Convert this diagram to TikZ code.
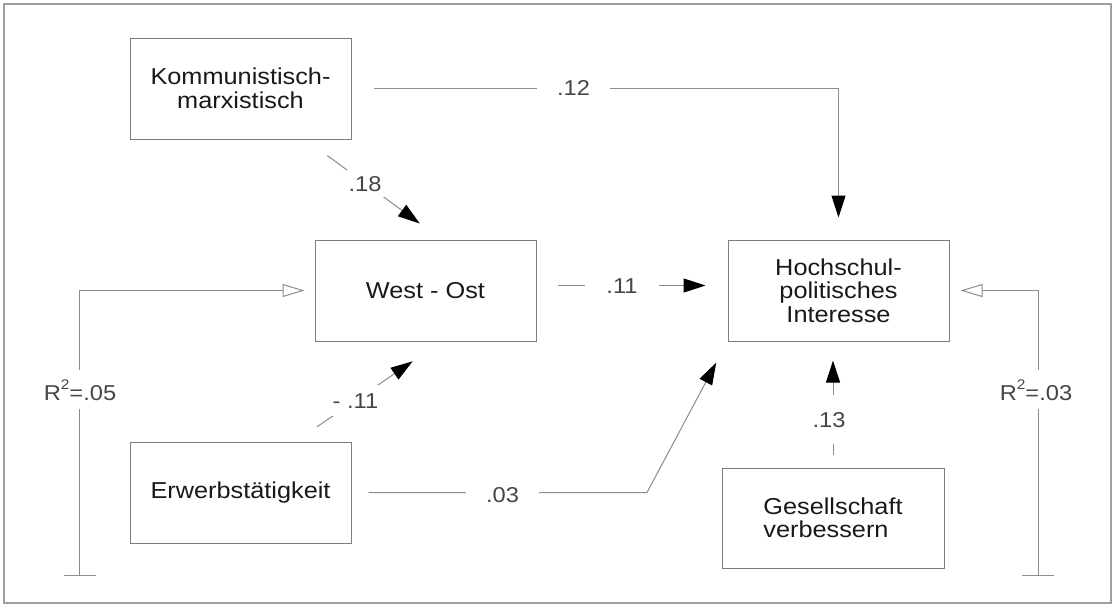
\documentclass[tikz,border=0pt]{standalone}
\usepackage{fontspec}
\setmainfont{Liberation Sans}[FakeStretch=1.1]
\usetikzlibrary{arrows.meta,calc}
\definecolor{linegray}{RGB}{140,140,140}
\definecolor{boxgray}{RGB}{125,125,125}
\definecolor{framegray}{RGB}{160,160,160}
\definecolor{txt}{RGB}{25,25,25}
\definecolor{lbltxt}{RGB}{70,70,70}
\newcommand{\rsq}{R\raisebox{0.5em}{\fontsize{14}{14}\selectfont 2}}
\begin{document}
\begin{tikzpicture}[x=1pt,y=-1pt,
  box/.style={draw=boxgray,line width=1pt,minimum width=221pt,minimum height=101pt,
    inner sep=0pt,align=center,text=txt,font=\fontsize{23}{23.5}\selectfont},
  conn/.style={draw=linegray,line width=1pt},
  arr/.style={conn,-{Triangle[length=22pt,width=14pt,black]}},
  oarr/.style={conn,-{Triangle[open,length=22pt,width=13pt,linegray]}},
  lbl/.style={fill=white,anchor=base,text=lbltxt,font=\fontsize{21.5}{22}\selectfont},
  hlbl/.style={lbl,inner xsep=20pt,inner ysep=4pt},
  vlbl/.style={lbl,inner xsep=3pt,inner ysep=17pt},
  rlbl/.style={lbl,inner xsep=3pt,inner ysep=9pt},
]
\useasboundingbox (0,0) rectangle (1113,606);
\draw[framegray,line width=1.5pt] (4,4) rectangle (1111,603);

% boxes
\node[box] (km) at (240.5,88.5) {Kommunistisch-\\marxistisch};
\node[box] (wo) at (425.5,290.5) {West - Ost};
\node[box] (hs) at (838.5,290.5) {Hochschul-\\politisches\\Interesse};
\node[box] (erw) at (240.5,492.5) {Erwerbstätigkeit};
\node[box,minimum width=222pt,minimum height=100pt,align=left] (gs) at (833,518) {Gesellschaft\\verbessern};

% coordinates
\coordinate (c03) at (647,492.5);
\coordinate (e1) at (79,575);
\coordinate (e2) at (1038,575);

% connectors
\draw[arr,shorten <=22pt,shorten >=22pt] (km.east) -| (hs.north);
\draw[arr,shorten <=27pt,shorten >=27pt] ($(km.south)+(65,0)$) -- ($(wo.north)+(16,0)$);
\draw[arr,shorten <=21pt,shorten >=22pt] ($(wo.east)+(0,-5)$) -- ($(hs.west)+(0,-5)$);
\draw[arr,shorten <=26pt,shorten >=35pt] ($(erw.north)+(55,0)$) -- ($(wo.south)+(16,0)$);
\draw[arr,shorten <=17pt,shorten >=24pt] (erw.east) -- (c03) -- (hs.south west);
\draw[arr,shorten <=13pt,shorten >=19pt] (gs.north) -- (gs.north |- hs.south);
\draw[oarr,shorten >=10pt] (e1) |- (wo.west);
\draw[oarr,shorten >=11pt] (e2) |- (hs.east);
\draw[conn] ($(e1)+(-15,0)$) -- ($(e1)+(17,0)$);
\draw[conn] ($(e2)+(-16,0)$) -- ($(e2)+(16,0)$);

% labels
\node[hlbl] (l12) at (573.5,95) {.12};
\node[lbl,inner xsep=3pt,inner ysep=6pt] (l18) at (365,191) {.18};
\node[hlbl,inner xsep=21pt] (l11) at (622,293) {.11};
\node[lbl,inner xsep=2pt,inner ysep=8pt] (lm11) at (355.5,408) {- .11};
\node[hlbl] (l03) at (502.5,502) {.03};
\node[vlbl] (l13) at (829,427) {.13};
\node[rlbl] (r1) at (80,400) {\rsq=.05};
\node[rlbl] (r2) at (1036,400) {\rsq=.03};
\end{tikzpicture}
\end{document}
